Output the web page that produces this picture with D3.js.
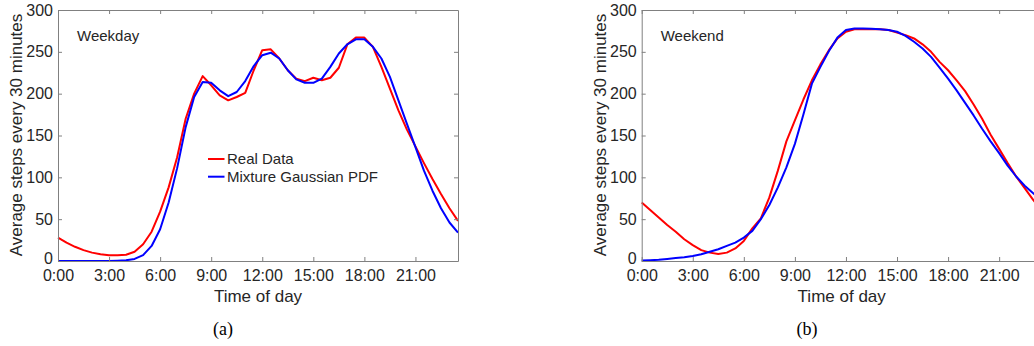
<!DOCTYPE html>
<html>
<head>
<meta charset="utf-8">
<script src="https://cdn.jsdelivr.net/npm/d3@7"></script>
<style>
  body { margin: 0; background: #fff; overflow: hidden; }
  svg { display: block; }
</style>
</head>
<body>
<div id="chart"></div>
<script>
// half-hour slots, 0:00 .. 23:30
const hours = d3.range(0, 24, 0.5);
const xTicks = [0, 3, 6, 9, 12, 15, 18, 21];
const yTicks = [0, 50, 100, 150, 200, 250, 300];

const weekdayReal = [28, 22, 17, 13, 10, 8, 7, 7, 7.5, 11, 20, 35, 59, 88, 124, 170, 200, 221, 210, 198, 192, 196, 201, 228,
  252, 253, 242, 228, 218, 215, 219, 216, 219, 231, 259, 267, 267, 256, 232, 206, 180, 157, 137, 117, 98, 80, 63, 48];
const weekdayModel = [0, 0, 0, 0, 0, 0, 0, 0.3, 0.8, 2.5, 7, 18, 38, 70, 111, 160, 196, 214, 213, 204, 197, 202, 215, 233,
  246, 249, 242, 228, 217, 213, 213, 218, 232, 248, 259, 265, 265, 256, 242, 220, 192, 164, 136, 108, 84, 63, 46, 34];

const weekendReal = [70, 61, 52, 43, 35, 26, 19, 13, 10, 8.5, 10, 15, 24, 39, 51, 76, 108, 143, 168, 193, 216, 235, 252, 266,
  274, 277, 277, 277, 277, 276, 273, 270, 266, 259, 250, 238, 228, 216, 203, 187, 170, 151, 134, 117, 101, 87, 73, 60];
const weekendModel = [0.5, 1, 1.5, 2.5, 3.5, 4.5, 6, 8, 11, 14, 18, 22, 28, 36, 50, 67, 88, 112, 140, 175, 212, 232, 251, 267,
  276, 278, 278, 277.5, 277, 276, 274, 269, 262, 254, 244, 231, 218, 204, 189, 174, 158, 143, 129, 114, 101, 90, 81, 72];

const seriesNames = ["Real Data", "Mixture Gaussian PDF"];
const seriesColors = ["#ff0000", "#0000ff"];

const panels = [
  { title: "Weekday", tag: "(a)", left: 58, tagX: 223, legend: true, real: weekdayReal, model: weekdayModel },
  { title: "Weekend", tag: "(b)", left: 641.7, tagX: 807, legend: false, real: weekendReal, model: weekendModel }
];

const W = 1034, H = 346;
const plotTop = 10, plotW = 400, plotH = 251;
const textColor = "#262626", axisColor = "#808080";
const font = "'Liberation Sans', Arial, sans-serif";

const svg = d3.select("#chart").append("svg")
    .attr("width", W)
    .attr("height", H);

const x = d3.scaleLinear().domain([0, 23.5]).range([0, plotW]);
const y = d3.scaleLinear().domain([0, 300]).range([plotH, 0]);

panels.forEach(p => {
  const g = svg.append("g")
      .attr("transform", `translate(${p.left}, ${plotTop})`);

  // lines first, the box drawn on top
  const line = d3.line()
      .x((d, i) => x(hours[i]))
      .y(d => y(d));

  [p.real, p.model].forEach((vals, k) => {
    g.append("path")
        .datum(vals)
        .attr("fill", "none")
        .attr("stroke", seriesColors[k])
        .attr("stroke-width", 2)
        .attr("stroke-linejoin", "round")
        .attr("d", line);
  });

  const styleAxis = sel => {
    sel.select(".domain").attr("stroke", axisColor);
    sel.selectAll(".tick line").attr("stroke", axisColor);
    sel.selectAll(".tick text")
        .attr("fill", textColor)
        .style("font-family", font)
        .style("font-size", "16px");
  };

  g.append("g")
      .attr("transform", `translate(0, ${plotH})`)
      .call(d3.axisBottom(x).tickValues(xTicks).tickFormat(d => d + ":00")
          .tickSizeInner(-4).tickSizeOuter(0).tickPadding(9))
      .call(styleAxis);

  g.append("g")
      .call(d3.axisTop(x).tickValues(xTicks).tickFormat("")
          .tickSizeInner(-4).tickSizeOuter(0))
      .call(styleAxis);

  g.append("g")
      .call(d3.axisLeft(y).tickValues(yTicks)
          .tickSizeInner(-4).tickSizeOuter(0).tickPadding(5))
      .call(styleAxis)
      // lift the "0" a touch so it clears the 0:00 label
      .selectAll(".tick text")
      .filter(d => d === 0)
      .attr("dy", "0.14em");

  g.append("g")
      .attr("transform", `translate(${plotW}, 0)`)
      .call(d3.axisRight(y).tickValues(yTicks).tickFormat("")
          .tickSizeInner(-4).tickSizeOuter(0))
      .call(styleAxis);

  g.append("text")
      .attr("x", 19)
      .attr("y", 31)
      .attr("fill", textColor)
      .style("font-family", font)
      .style("font-size", "15px")
      .text(p.title);

  g.append("text")
      .attr("transform", "rotate(-90)")
      .attr("x", -(135 - plotTop))
      .attr("y", -36)
      .attr("text-anchor", "middle")
      .attr("fill", textColor)
      .style("font-family", font)
      .style("font-size", "17px")
      .text("Average steps every 30 minutes");

  g.append("text")
      .attr("x", plotW / 2)
      .attr("y", 302 - plotTop)
      .attr("text-anchor", "middle")
      .attr("fill", textColor)
      .style("font-family", font)
      .style("font-size", "17px")
      .text("Time of day");

  svg.append("text")
      .attr("x", p.tagX)
      .attr("y", 335)
      .attr("text-anchor", "middle")
      .attr("fill", "#000")
      .style("font-family", "'Liberation Serif', 'Times New Roman', serif")
      .style("font-size", "18px")
      .text(p.tag);

  if (p.legend) {
    const lg = g.append("g").attr("transform", `translate(${208 - p.left}, ${159 - plotTop})`);
    seriesNames.forEach((name, k) => {
      const row = lg.append("g").attr("transform", `translate(0, ${k * 17.7})`);
      row.append("line")
          .attr("x1", 0).attr("x2", 16.5)
          .attr("stroke", seriesColors[k])
          .attr("stroke-width", 2);
      row.append("text")
          .attr("x", 19)
          .attr("y", 5)
          .attr("fill", textColor)
          .style("font-family", font)
          .style("font-size", "15px")
          .text(name);
    });
  }
});
</script>
</body>
</html>
